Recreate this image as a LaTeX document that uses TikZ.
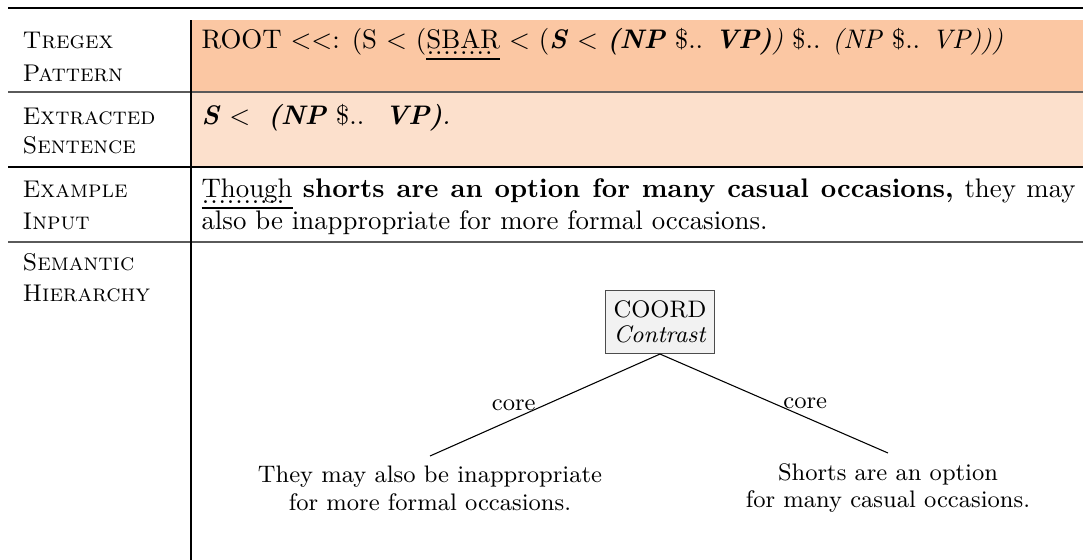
\documentclass[tikz,border=0pt]{standalone}
\definecolor{rowA}{RGB}{251,199,163}
\definecolor{rowB}{RGB}{252,224,204}
\definecolor{boxfill}{RGB}{242,242,242}
\definecolor{rulegray}{RGB}{90,90,90}
\newcommand\dotunder[1]{\setbox0\hbox{#1}%
  \rlap{\raisebox{-2.4pt}[0pt][0pt]{\hbox to \wd0{\leaders\hbox to 3.1pt{\hss.\hss}\hfill}}}%
  \rlap{\rule[-4.3pt]{\wd0}{0.4pt}}\box0\relax}
\tikzset{
  lbl/.style={anchor=base west, inner sep=0pt, font=\fontsize{9}{11}\selectfont},
  txt/.style={anchor=base west, inner sep=0pt, font=\fontsize{10}{12}\selectfont},
  coordbox/.style={draw=black!70, fill=boxfill, align=center, inner xsep=3pt, inner ysep=3.85pt, font=\fontsize{8.9}{9.3}\selectfont},
  leaf/.style={align=center, inner sep=3.6pt, font=\fontsize{8.9}{10.4}\selectfont},
  elabel/.style={inner sep=3.3pt, font=\fontsize{8.9}{11}\selectfont},
  treeedge/.style={draw=black, line width=0.4pt},
}
\begin{document}
\begin{tikzpicture}[x=0.3725pt,y=-0.3725pt]
\useasboundingbox (0,0) rectangle (1083,560);
% cell fills
\fill[rowA] (191,20) rectangle (1083,92);
\fill[rowB] (191,92) rectangle (1083,167);
% rules
\draw[line width=0.75pt] (8,8.3) -- (1083,8.3);
\draw[line width=0.4pt, rulegray] (8,92) -- (1083,92);
\draw[line width=0.4pt] (8,167) -- (1083,167);
\draw[line width=0.4pt, rulegray] (8,242) -- (1083,242);
\draw[line width=0.4pt] (191,20) -- (191,560);
% left column
\node[lbl] (tre) at (22,48) {\textsc{Tregex}};
\node[lbl] (pat) at (22,81) {\textsc{Pattern}};
\node[lbl] (ext) at (22,124) {\textsc{Extracted}};
\node[lbl] (sen) at (22,153) {\textsc{Sentence}};
\node[lbl] (exa) at (22,197) {\textsc{Example}};
\node[lbl] (inp) at (22,229) {\textsc{Input}};
\node[lbl] (sem) at (22,270) {\textsc{Semantic}};
\node[lbl] (hie) at (22,301) {\textsc{Hierarchy}};
% right column
\node[txt] (pattern) at (201,48) {ROOT $<<$: (S $<$ (\dotunder{SBAR} $<$ (\textbf{\textit{S}} $<$ \textbf{\textit{(NP}} \textup{\$}.. \textbf{\textit{VP)}}\textit{)} \textup{\$}.. \textit{(NP} \textup{\$}.. \textit{VP)))}};
\node[txt] (extracted) at (201,124) {\textbf{\textit{S}} $<$ \ \textbf{\textit{(NP}} \textup{\$}.. \ \textbf{\textit{VP)}}\textit{.}};
\node[txt] (input1) at (201,197) {\makebox[325.6pt][s]{\dotunder{Though} \textbf{shorts are an option for many casual occasions,} they may}};
\node[txt] (input2) at (201,229) {also be inappropriate for more formal occasions.};
% semantic hierarchy tree
\node[coordbox] (root) at (660,322) {COORD\\\textit{Contrast}};
\node[leaf, anchor=north] (left) at (430,456) {They may also be inappropriate\\for more formal occasions.};
\node[leaf, anchor=north] (right) at (888,453) {Shorts are an option\\for many casual occasions.};
\draw[treeedge] (root.south) -- node[elabel, midway, left] (cl) {core} (left.north);
\draw[treeedge] (root.south) -- node[elabel, midway, right] (cr) {core} (right.north);
\end{tikzpicture}
\end{document}
